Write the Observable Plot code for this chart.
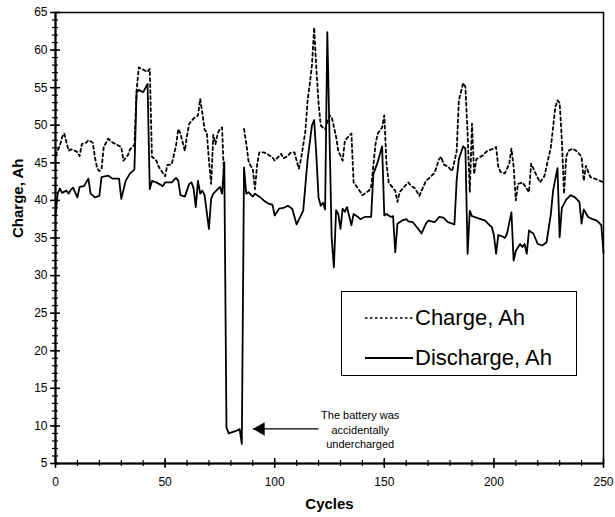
<!DOCTYPE html>
<html><head><meta charset="utf-8">
<script src="https://cdn.jsdelivr.net/npm/d3@7"></script>
<script src="https://cdn.jsdelivr.net/npm/@observablehq/plot@0.6"></script>
<style>
body{margin:0;background:#fff;}
#wrap{position:relative;width:615px;height:517px;font-family:"Liberation Sans",Arial,sans-serif;}
#legend{position:absolute;left:341px;top:291px;width:236px;height:85px;border:1px solid #000;background:#fff;box-sizing:border-box;}
.row{position:absolute;left:0;height:28px;display:flex;align-items:center;font-size:22px;color:#000;white-space:nowrap;}
.row svg{margin-left:23px;margin-right:2px;}
</style></head><body><div id="wrap"></div>
<script>
// ---- data ----
const dischargeCycles = [0,1,2,3,5,6,7,8,10,11,13,15,16,18,20,21,24,26,29,30,32,34,36,37,38,40,42,43,44,46,49,50,53,55,56,57,59,61,62,63,64,65,66,67,68,70,71,72,74,75,76,77,78,79,81,83,84,85,86,87,88,90,91,93,95,97,99,100,102,104,106,108,110,112,113,115,117,118,119,120,121,122,123,124,126,127,128,129,130,131,132,133,135,136,138,139,141,144,145,147,149,150,151,153,154,155,156,158,160,161,163,165,167,169,170,173,175,177,179,182,183,184,186,187,188,189,190,192,194,196,198,199,200,201,202,204,205,206,208,209,210,212,213,214,215,216,218,220,222,224,226,227,229,230,231,233,235,237,239,240,241,243,245,247,249,250];
const dischargeAh = [38.0,40.9,41.6,41.0,41.3,40.9,41.4,41.7,40.4,41.8,41.9,42.9,40.9,40.4,40.6,43.1,43.3,42.9,42.9,40.2,42.6,43.6,44.1,54.4,54.7,54.4,55.5,41.5,42.6,42.4,41.9,42.4,42.4,43.0,42.6,40.7,40.5,42.2,42.4,41.6,39.1,42.6,40.9,41.3,40.7,36.2,40.2,40.9,41.5,41.8,40.9,45.1,9.8,9.0,9.2,9.4,9.6,7.6,44.4,40.9,41.1,40.5,40.9,40.5,40.0,39.6,39.4,38.0,38.9,39.0,39.3,38.9,36.8,38.0,38.6,45.4,50.0,50.7,46.0,40.4,39.3,39.7,38.8,62.4,35.0,31.1,38.7,38.2,36.2,38.9,38.5,39.1,36.7,38.2,37.8,37.5,37.8,37.8,43.5,45.1,47.2,38.0,38.2,37.8,37.9,33.1,36.9,37.3,37.5,37.2,37.1,36.4,35.6,36.9,37.3,37.1,37.8,37.7,37.1,36.8,42.6,45.5,47.2,46.9,32.9,38.6,37.9,37.7,37.5,37.3,36.7,36.5,35.4,32.9,35.4,35.2,35.0,35.6,38.4,32.0,33.3,34.2,33.8,34.2,32.9,36.0,35.6,34.2,34.0,34.4,38.2,41.3,44.3,35.1,39.0,40.1,40.7,40.4,39.8,36.9,38.8,37.8,37.5,37.3,36.7,33.0];

const chargeCycles = [0,2,3,4,6,7,9,10,11,12,14,15,17,18,19,20,21,22,24,26,28,30,31,33,34,36,37,38,40,42,43,44,46,47,50,51,53,55,56,57,59,60,61,63,65,66,67,68,69,70,71,72,73,74,75,76,77,78,86,87,88,89,90,91,92,93,95,97,99,100,103,104,106,107,109,111,112,114,115,116,117,118,119,120,121,122,123,125,126,128,129,131,132,133,135,136,137,138,140,141,143,144,146,147,149,150,151,152,153,155,156,157,159,161,162,164,166,167,169,171,173,175,176,177,179,181,183,184,186,187,188,189,190,191,192,195,197,199,201,202,203,205,207,208,209,210,211,213,214,216,217,219,221,223,226,228,229,230,231,232,233,234,236,238,240,241,242,244,246,250];
const chargeAh = [46.0,47.3,48.4,48.9,46.6,46.8,46.6,46.4,45.9,47.5,47.7,48.0,47.7,45.7,44.3,43.9,44.2,47.1,48.2,47.7,47.4,47.1,45.3,46.0,46.8,47.4,54.6,57.7,57.4,57.1,57.5,45.8,45.3,44.5,43.2,44.7,44.8,47.3,49.5,48.9,46.6,48.6,50.2,50.9,51.3,53.5,51.6,49.4,49.1,45.3,42.2,48.7,47.5,48.9,49.5,49.7,42.0,null,49.5,47.7,45.3,44.6,44.2,41.5,44.8,46.4,46.4,46.1,45.7,45.3,46.2,45.6,45.9,46.3,46.4,44.2,45.5,49.2,53.3,55.5,58.0,63.0,57.5,53.0,50.0,49.7,49.5,51.3,51.1,48.5,46.6,45.3,47.9,48.3,48.9,42.4,42.0,41.6,40.7,40.9,41.3,41.8,47.5,48.9,49.7,51.3,44.9,42.4,42.0,41.3,39.8,41.1,41.8,42.4,42.0,41.6,40.6,41.3,42.6,43.1,43.7,45.5,45.8,44.8,44.5,43.9,46.5,53.3,55.6,55.1,48.9,41.1,50.2,43.5,45.5,46.0,46.6,46.8,47.1,44.5,43.8,43.6,44.9,46.9,44.5,40.0,42.2,42.4,42.0,41.1,44.9,43.6,42.4,43.2,47.1,52.4,53.3,53.0,48.1,40.9,45.8,46.6,46.9,46.5,45.8,42.6,44.6,43.1,42.9,42.4];

const xTicks = [0, 50, 100, 150, 200, 250];
const xMinorTicks = d3.range(0, 251, 10);
const yTicks = [5, 10, 15, 20, 25, 30, 35, 40, 45, 50, 55, 60, 65];
const yMinorTicks = d3.range(5, 66, 1);
const xLabel = "Cycles";
const yLabel = "Charge, Ah";
const seriesNames = ["Charge, Ah", "Discharge, Ah"];
const note = [{x: 139, y: 9.6, text: "The battery was\naccidentally\nundercharged"}];
const noteArrow = [{from: 120, to: 90, y: 9.6}];

// ---- tables ----
const discharge = dischargeCycles.map((c, i) => ({cycle: c, ah: dischargeAh[i]}));
const charge = chargeCycles.map((c, i) => ({cycle: c, ah: chargeAh[i]}));
const blank = () => "";

const chart = Plot.plot({
  width: 615, height: 517,
  marginLeft: 55, marginRight: 12, marginTop: 12, marginBottom: 54,
  x: {domain: [0, 250], label: null},
  y: {domain: [5, 65], label: null},
  style: {fontFamily: "'Liberation Sans', Arial, sans-serif", fontSize: "12px", color: "black", background: "white"},
  marks: [
    Plot.frame({stroke: "black", strokeWidth: 1.5}),
    // minor ticks (crossing axis)
    Plot.axisY(yMinorTicks, {tickSize: 6, dx: 3, tickFormat: blank, label: null, strokeWidth: 1.2}),
    Plot.axisX(xMinorTicks, {tickSize: 6, dy: -3, tickFormat: blank, label: null, strokeWidth: 1.2}),
    // major ticks
    Plot.axisY(yTicks, {tickSize: 10, dx: 5, tickFormat: blank, label: null, strokeWidth: 1.5}),
    Plot.axisX(xTicks, {tickSize: 10, dy: -5, tickFormat: blank, label: null, strokeWidth: 1.5}),
    Plot.axisY(yTicks, {tickSize: 0, tickPadding: 8, label: null}),
    Plot.axisX(xTicks, {tickSize: 0, tickPadding: 14, label: null}),
    Plot.ruleX([0], {stroke: "black", strokeWidth: 2}),
    Plot.ruleY([5], {stroke: "black", strokeWidth: 2}),
    // axis titles
    Plot.text([yLabel], {frameAnchor: "left", dx: -37, rotate: -90, fontWeight: "bold", fontSize: 15}),
    Plot.text([xLabel], {frameAnchor: "bottom", dy: 45, fontWeight: "bold", fontSize: 15}),
    // data
    Plot.line(charge, {x: "cycle", y: "ah", stroke: "black", strokeWidth: 1.8, strokeDasharray: "3,3"}),
    Plot.line(discharge, {x: "cycle", y: "ah", stroke: "black", strokeWidth: 1.8}),
    // annotation
    Plot.link(noteArrow, {x1: "from", x2: "to", y1: "y", y2: "y", stroke: "black", strokeWidth: 1.2}),
    Plot.dot(noteArrow, {x: "to", y: "y", symbol: "triangle", r: 5, fill: "black", rotate: -90, dx: 8}),
    Plot.text(note, {x: "x", y: "y", text: "text", fontSize: 11, lineHeight: 1.32, textAnchor: "middle"})
  ]
});

const wrap = document.getElementById("wrap");
wrap.appendChild(chart);

// legend inside the plot area (HTML overlay)
const legend = document.createElement("div");
legend.id = "legend";
seriesNames.forEach((name, i) => {
  const row = document.createElement("div");
  row.className = "row";
  row.style.top = (i === 0 ? 12 : 52) + "px";
  const dash = i === 0 ? ' stroke-dasharray="2.5,2.5"' : '';
  row.innerHTML = `<svg width="48" height="10"><line x1="0" y1="5" x2="48" y2="5" stroke="black" stroke-width="${i === 0 ? 1.4 : 1.8}"${dash}/></svg><span>${name}</span>`;
  legend.appendChild(row);
});
wrap.appendChild(legend);
</script></body></html>
